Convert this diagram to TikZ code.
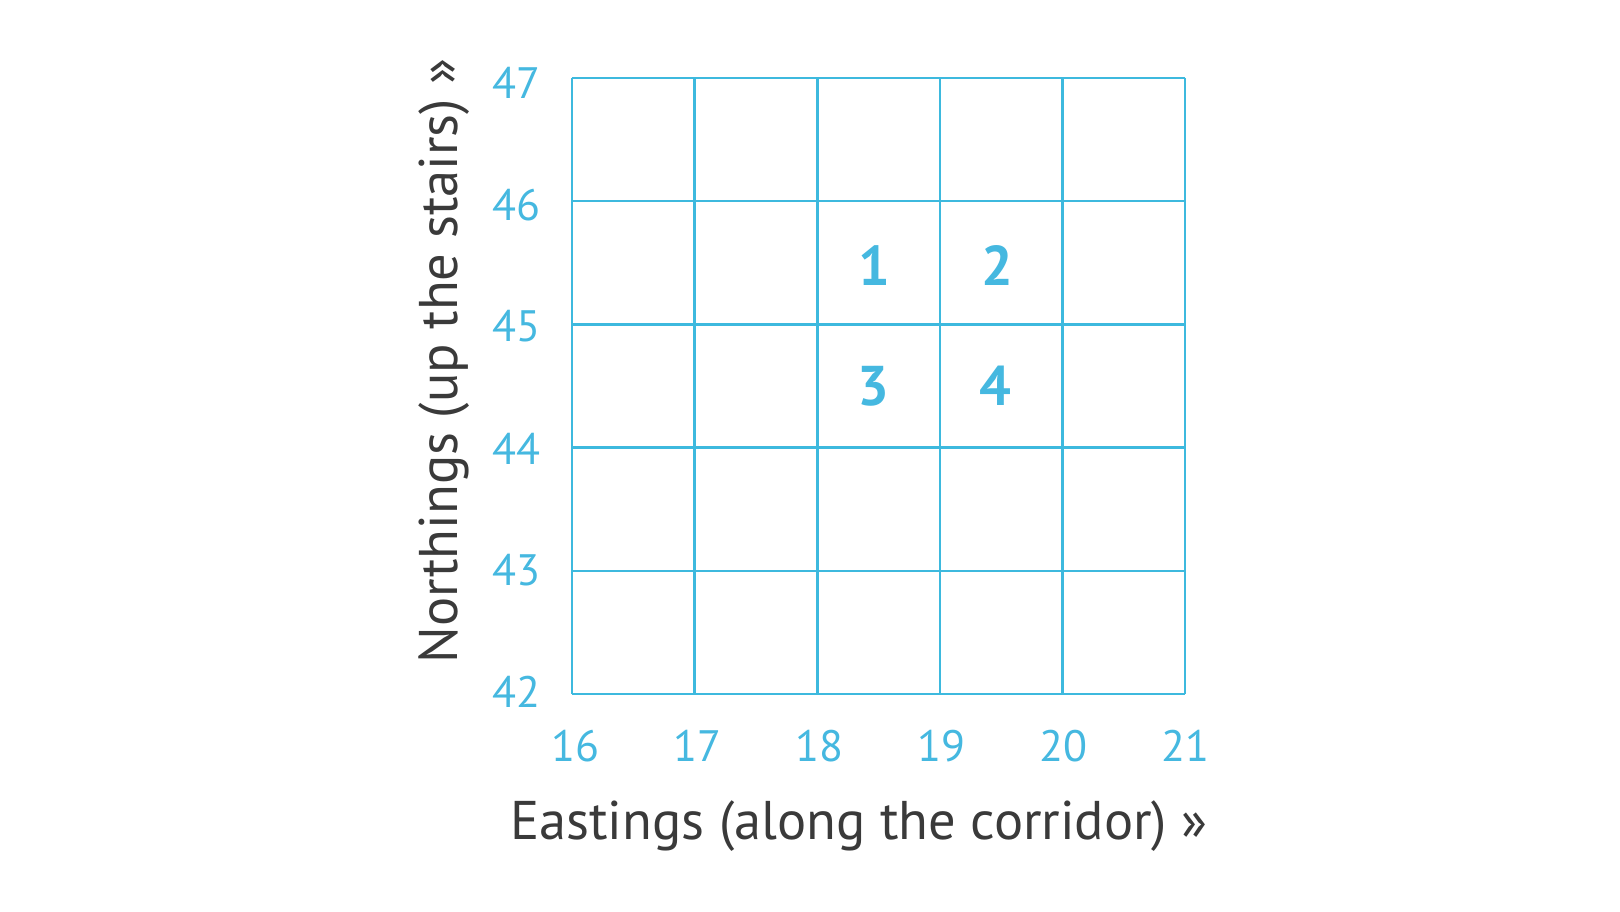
\documentclass[tikz,border=0pt]{standalone}
\usepackage{fontspec}
\setmainfont{PT Sans}
\definecolor{gridblue}{HTML}{3DB9DE}
\definecolor{labblue}{HTML}{45B8E0}
\definecolor{titlegray}{HTML}{3A3A3A}
\begin{document}
\begin{tikzpicture}[x=1pt,y=-1pt,
  gridline/.style={draw=gridblue,line width=2.6pt},
  ticklab/.style={text=labblue,font=\fontsize{44}{52}\selectfont,inner sep=0pt},
  celllab/.style={text=labblue,font=\fontsize{56}{66}\selectfont\bfseries,inner sep=0pt},
  axistitle/.style={text=titlegray,font=\fontsize{54.5}{64}\selectfont,inner sep=0pt}]
\useasboundingbox[fill=white] (0,0) rectangle (1620,912);
% grid
\foreach \i in {0,...,5} {
  \draw[gridline] (572+\i*122.6,78) -- (572+\i*122.6,694);
  \draw[gridline] (572,78+\i*123.2) -- (1185,78+\i*123.2);
}
% y tick labels
\foreach \v [count=\i from 0] in {47,46,45,44,43,42}
  \node[ticklab,anchor=east] (y\v) at (541,83+\i*121.8) {\v};
% x tick labels
\foreach \v [count=\i from 0] in {16,17,18,19,20,21}
  \node[ticklab] (x\v) at (575+\i*122.0,746) {\v};
% cell numbers
\node[celllab] (c1) at (874,266) {1};
\node[celllab] (c2) at (997,266) {2};
\node[celllab] (c3) at (873,386) {3};
\node[celllab] (c4) at (995,386) {4};
% axis titles
\node[axistitle] (xt) at (859,826) {Eastings (along the corridor) »};
\node[axistitle,rotate=90] (yt) at (444,361) {Northings (up the stairs) »};
\end{tikzpicture}
\end{document}
